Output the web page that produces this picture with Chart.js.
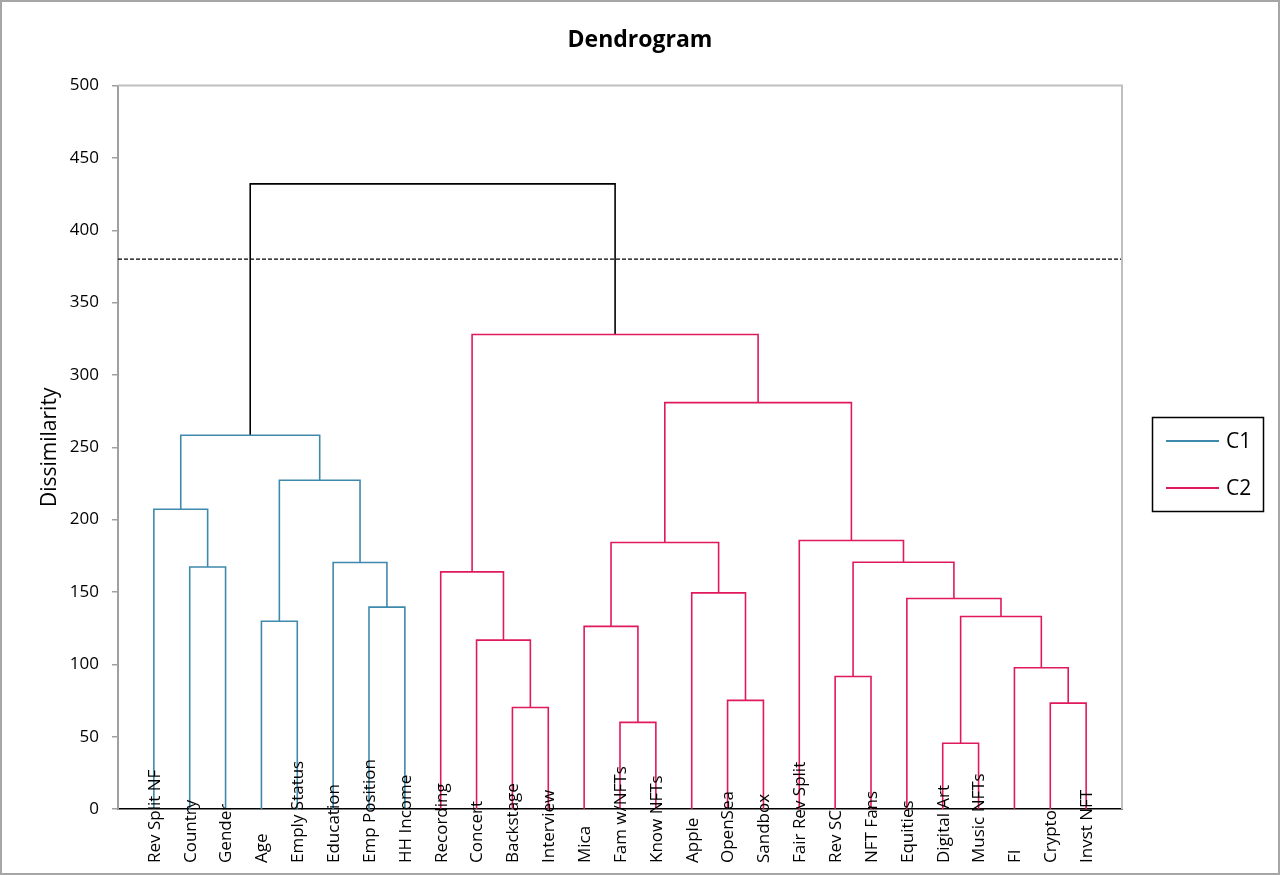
<!DOCTYPE html>
<html>
<head>
<meta charset="utf-8">
<title>Dendrogram</title>
<script src="https://cdn.jsdelivr.net/npm/chart.js@4.4.1/dist/chart.umd.min.js"></script>
<style>
  html, body { margin: 0; padding: 0; background: #fff; }
  #wrap { width: 1280px; height: 875px; }
</style>
</head>
<body>
<div id="wrap"><canvas id="dendro" width="1280" height="875"></canvas></div>
<script>
// leaves, left to right
const leaves = ['Rev Split NF', 'Country', 'Gender', 'Age', 'Emply Status', 'Education',
  'Emp Position', 'HH Income', 'Recording', 'Concert', 'Backstage', 'Interview', 'Mica',
  'Fam w/NFTs', 'Know NFTs', 'Apple', 'OpenSea', 'Sandbox', 'Fair Rev Split', 'Rev SC',
  'NFT Fans', 'Equities', 'Digital Art', 'Music NFTs', 'FI', 'Crypto', 'Invst NFT'];

// merges: node ids 0..26 are leaves, merge k creates node 27 + k
const mergeLeft   = [22, 13, 10, 25, 16, 19, 24,  9, 12,  3, 27,  6, 21, 15,  8,  1,  5, 32, 35, 18,  0, 36, 47, 45, 41, 49];
const mergeRight  = [23, 14, 11, 26, 17, 20, 30, 29, 28,  4, 33,  7, 37, 31, 34,  2, 38, 39, 40, 44, 42, 43, 48, 46, 50, 51];
const mergeHeight = [45.4, 59.9, 70.2, 73.2, 75.1, 91.6, 97.6, 116.7, 126.2, 129.8, 133.1, 139.5, 145.5,
  149.4, 163.9, 167.3, 170.4, 170.6, 184.2, 185.6, 207.2, 227.2, 258.3, 280.9, 328.0, 432.1];
const mergeCluster = ['C2', 'C2', 'C2', 'C2', 'C2', 'C2', 'C2', 'C2', 'C2', 'C1', 'C2', 'C1', 'C2',
  'C2', 'C2', 'C1', 'C1', 'C2', 'C2', 'C2', 'C1', 'C1', 'C1', 'C2', 'C2', 'root'];

const cutoff = 380;
const yMin = 0, yMax = 500, yStep = 50;

const colors = { C1: '#3f89ad', C2: '#e0195c', root: '#000000' };

// node positions: leaves sit at 1..n, a merge sits midway between its children
const nodeX = leaves.map((_, i) => i + 1);
const nodeH = leaves.map(() => 0);
mergeHeight.forEach((h, k) => {
  nodeX.push((nodeX[mergeLeft[k]] + nodeX[mergeRight[k]]) / 2);
  nodeH.push(h);
});

function linkPoints(cluster) {
  const pts = [];
  mergeHeight.forEach((h, k) => {
    if (mergeCluster[k] !== cluster) return;
    const l = mergeLeft[k], r = mergeRight[k];
    pts.push({ x: nodeX[l], y: nodeH[l] }, { x: nodeX[l], y: h },
             { x: nodeX[r], y: h }, { x: nodeX[r], y: nodeH[r] },
             { x: nodeX[r], y: null });
  });
  return pts;
}

function linkSet(cluster, label) {
  return {
    label: label,
    data: linkPoints(cluster),
    borderColor: colors[cluster],
    borderWidth: 1.6,
    pointRadius: 0,
    tension: 0,
    spanGaps: false
  };
}

const decor = {
  id: 'decor',
  afterDraw(chart) {
    const { ctx, chartArea: a, scales: { x } } = chart;
    ctx.save();

    // plot frame, top and right
    ctx.strokeStyle = '#bfbfbf';
    ctx.lineWidth = 2;
    ctx.beginPath();
    ctx.moveTo(a.left, a.top);
    ctx.lineTo(a.right, a.top);
    ctx.lineTo(a.right, a.bottom);
    ctx.stroke();

    // leaf names, rotated, starting from the bottom
    ctx.fillStyle = '#000';
    ctx.font = '17px "Open Sans"';
    ctx.textAlign = 'left';
    ctx.textBaseline = 'middle';
    leaves.forEach((name, i) => {
      ctx.save();
      ctx.translate(x.getPixelForValue(nodeX[i]) + 1, 863);
      ctx.rotate(-Math.PI / 2);
      ctx.fillText(name, 0, 0);
      ctx.restore();
    });

    // legend box
    ctx.strokeStyle = '#000';
    ctx.lineWidth = 1.5;
    ctx.strokeRect(1152.5, 417.5, 111, 94);
    ctx.font = '21px "Open Sans"';
    const items = chart.data.datasets.filter(d => d.label === 'C1' || d.label === 'C2');
    items.forEach((d, i) => {
      const y = 441 + i * 47;
      ctx.strokeStyle = d.borderColor;
      ctx.lineWidth = 2;
      ctx.beginPath();
      ctx.moveTo(1166, y);
      ctx.lineTo(1219, y);
      ctx.stroke();
      ctx.fillStyle = '#000';
      ctx.fillText(d.label, 1226, y + 1);
    });

    // outer frame
    ctx.strokeStyle = '#a6a6a6';
    ctx.lineWidth = 2;
    ctx.strokeRect(1, 1, chart.width - 2, chart.height - 2);
    ctx.restore();
  }
};

new Chart(document.getElementById('dendro'), {
  type: 'line',
  data: {
    datasets: [
      linkSet('C1', 'C1'),
      linkSet('C2', 'C2'),
      linkSet('root', 'root'),
      {
        label: 'cutoff',
        data: [{ x: 0, y: cutoff }, { x: leaves.length + 1, y: cutoff }],
        borderColor: '#000',
        borderWidth: 1.3,
        borderDash: [4, 2],
        pointRadius: 0
      }
    ]
  },
  options: {
    responsive: false,
    animation: false,
    layout: { padding: 0 },
    plugins: {
      legend: { display: false },
      tooltip: { enabled: false },
      title: {
        display: true,
        text: 'Dendrogram',
        color: '#000',
        font: { family: 'Open Sans', size: 23, weight: 'bold' },
        padding: { top: 27, bottom: 31 }
      }
    },
    scales: {
      x: {
        type: 'linear',
        min: 0,
        max: leaves.length + 1,
        grid: { display: false },
        ticks: { display: false },
        border: { color: '#000', width: 1.5 },
        afterFit: s => { s.height = 66; }
      },
      y: {
        type: 'linear',
        position: 'left',
        min: yMin,
        max: yMax,
        ticks: {
          stepSize: yStep,
          color: '#000',
          padding: 13,
          font: { family: 'Open Sans', size: 17 }
        },
        grid: { drawOnChartArea: false, drawTicks: true, tickLength: 6, color: '#a0a0a0', lineWidth: 1.5 },
        border: { color: '#a0a0a0', width: 2 },
        title: {
          display: true,
          text: 'Dissimilarity',
          color: '#000',
          font: { family: 'Open Sans', size: 21 },
          padding: { top: 37, bottom: 0 }
        },
        afterFit: s => { s.width = 118; }
      },
      yR: {
        type: 'linear',
        position: 'right',
        grid: { display: false },
        ticks: { display: false },
        border: { display: false },
        afterFit: s => { s.width = 158; }
      }
    }
  },
  plugins: [decor]
});
</script>
</body>
</html>
